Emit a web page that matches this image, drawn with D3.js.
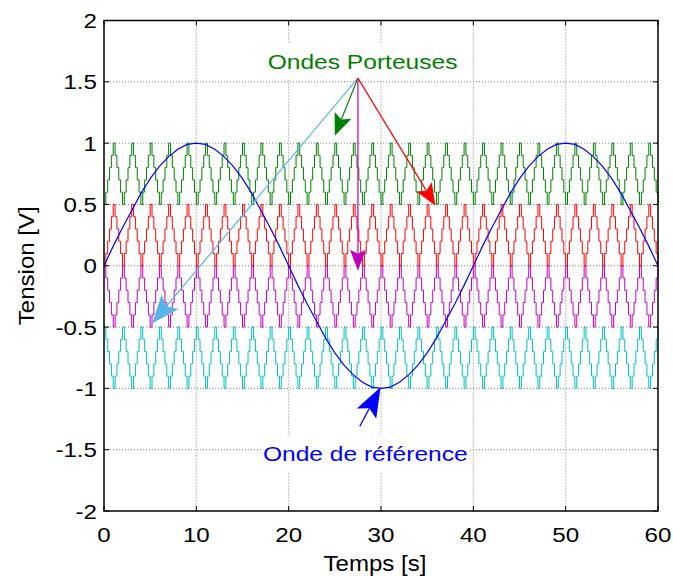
<!DOCTYPE html>
<html><head><meta charset="utf-8">
<script src="https://cdn.jsdelivr.net/npm/d3@7"></script>
<style>html,body{margin:0;padding:0;background:#fff;}svg{display:block;}</style>
</head><body>
<svg id="c" width="673" height="576"></svg>
<script>
// ---------- data ----------
const xTicks = [0, 10, 20, 30, 40, 50, 60];
const xTickLabels = ["0", "10", "20", "30", "40", "50", "60"];
const yTicks = [-2, -1.5, -1, -0.5, 0, 0.5, 1, 1.5, 2];
const yTickLabels = ["-2", "-1.5", "-1", "-0.5", "0", "0.5", "1", "1.5", "2"];

// reference wave, sampled every second (t = 0..60)
const sineTimes = [0,1,2,3,4,5,6,7,8,9,10,11,12,13,14,15,16,17,18,19,20,21,22,23,24,25,26,27,28,29,30,
  31,32,33,34,35,36,37,38,39,40,41,42,43,44,45,46,47,48,49,50,51,52,53,54,55,56,57,58,59,60];
const sineValues = [0,0.16,0.31,0.45,0.59,0.71,0.81,0.89,0.95,0.99,1,0.99,0.95,0.89,0.81,0.71,0.59,0.45,0.31,0.16,
  0,-0.16,-0.31,-0.45,-0.59,-0.71,-0.81,-0.89,-0.95,-0.99,-1,-0.99,-0.95,-0.89,-0.81,-0.71,-0.59,-0.45,-0.31,-0.16,
  0,0.16,0.31,0.45,0.59,0.71,0.81,0.89,0.95,0.99,1,0.99,0.95,0.89,0.81,0.71,0.59,0.45,0.31,0.16,0];

// one period (2 s) of carrier as sampled levels (fraction of band), sample step 0.2 s
const carrierPattern = [0, 0.2, 0.4, 0.6, 0.8, 1, 0.8, 0.6, 0.4, 0.2];
const carrierStep = 0.2;
const carrierPeriods = 30;
const carrierNames = ["cyan", "magenta", "red", "green"];
const carrierLows = [-1, -0.5, 0, 0.5];
const carrierHighs = [-0.5, 0, 0.5, 1];
const carrierInverted = [true, true, false, false];
const carrierColors = ["#00bfbf", "#bf00bf", "#ff0000", "#008000"];

// annotations (data coordinates)
const labelCarrier = {text: "Ondes Porteuses", x: 28, y: 1.67, color: "#008000"};
const labelRef = {text: "Onde de référence", x: 28.3, y: -1.53, color: "#0000ff"};
const arrowFromT = [27.5, 27.5, 27.5, 27.5, 27.7];
const arrowFromV = [1.53, 1.53, 1.53, 1.53, -1.31];
const arrowToT = [5.2, 25.0, 27.5, 35.9, 29.95];
const arrowToV = [-0.47, 1.06, -0.04, 0.49, -0.99];
const arrowColors = ["#56b4e9", "#008000", "#bf00bf", "#ff0000", "#0000ff"];
const arrowHeadLen = [28, 22, 21, 22, 30];
const arrowHeadHalfW = [11, 9, 8, 9, 11];

// ---------- drawing ----------
const svg = d3.select("#c");
svg.append("rect").attr("width", 673).attr("height", 576).attr("fill", "#fff");
const x = d3.scaleLinear().domain([0, 60]).range([104, 658]);
const y = d3.scaleLinear().domain([-2, 2]).range([511, 20.5]);
const FONT = "'Liberation Sans', Arial, sans-serif";

// grid
const grid = svg.append("g");
grid.selectAll("line.gx").data(xTicks.slice(1, -1)).join("line")
  .attr("x1", d => x(d)).attr("x2", d => x(d)).attr("y1", y(2)).attr("y2", y(-2))
  .attr("stroke", "#808080").attr("stroke-width", 1).attr("stroke-dasharray", "1,2");
grid.selectAll("line.gy").data(yTicks.slice(1, -1)).join("line")
  .attr("y1", d => y(d)).attr("y2", d => y(d)).attr("x1", x(0)).attr("x2", x(60))
  .attr("stroke", "#808080").attr("stroke-width", 1).attr("stroke-dasharray", "1,2");

// carriers
const stepLine = d3.line().x(d => x(d[0])).y(d => y(d[1])).curve(d3.curveStepAfter);
carrierNames.forEach((name, k) => {
  const pts = [];
  const lo = carrierLows[k], hi = carrierHighs[k];
  for (let p = 0; p < carrierPeriods; p++) {
    carrierPattern.forEach((f, i) => {
      const fr = carrierInverted[k] ? 1 - f : f;
      pts.push([(p * carrierPattern.length + i) * carrierStep, lo + fr * (hi - lo)]);
    });
  }
  const f0 = carrierInverted[k] ? 1 - carrierPattern[0] : carrierPattern[0];
  pts.push([60, lo + f0 * (hi - lo)]);
  svg.append("path").attr("d", stepLine(pts)).attr("fill", "none")
    .attr("stroke", carrierColors[k]).attr("stroke-width", 1);
});

// reference sine
const line = d3.line().x((d, i) => x(sineTimes[i])).y(d => y(d));
svg.append("path").attr("d", line(sineValues)).attr("fill", "none")
  .attr("stroke", "#0000ff").attr("stroke-width", 1.2);

// axes box + ticks
const ax = svg.append("g");
ax.append("rect").attr("x", x(0)).attr("y", y(2)).attr("width", x(60) - x(0)).attr("height", y(-2) - y(2))
  .attr("fill", "none").attr("stroke", "#000").attr("stroke-width", 1.5);
const tl = 5;
xTicks.forEach(t => {
  ax.append("line").attr("x1", x(t)).attr("x2", x(t)).attr("y1", y(-2)).attr("y2", y(-2) - tl).attr("stroke", "#000");
  ax.append("line").attr("x1", x(t)).attr("x2", x(t)).attr("y1", y(2)).attr("y2", y(2) + tl).attr("stroke", "#000");
});
yTicks.forEach(t => {
  ax.append("line").attr("y1", y(t)).attr("y2", y(t)).attr("x1", x(0)).attr("x2", x(0) + tl).attr("stroke", "#000");
  ax.append("line").attr("y1", y(t)).attr("y2", y(t)).attr("x1", x(60)).attr("x2", x(60) - tl).attr("stroke", "#000");
});

function txt(s, px, py, opts) {
  const g = svg.append("g").attr("transform", `translate(${px},${py}) rotate(${opts.rot || 0}) scale(${opts.sx || 1.15},1)`);
  return g.append("text").text(s).attr("font-family", FONT).attr("font-size", opts.size || 21)
    .attr("text-anchor", opts.anchor || "middle").attr("fill", opts.color || "#000")
    .attr("dominant-baseline", opts.baseline || "auto");
}
xTicks.forEach((t, i) => txt(xTickLabels[i], x(t), 542, {}));
yTicks.forEach((t, i) => txt(yTickLabels[i], 97, y(t) + 7.5, {anchor: "end"}));
txt("Tension [V]", 34, y(0), {rot: -90, sx: 1.12, size: 21.5});
txt("Temps [s]", 375, 571, {sx: 1.12, size: 21.5});

// annotation labels with white boxes
function boxLabel(l) {
  svg.append("rect").attr("x", x(l.x) - 103).attr("y", y(l.y) - 18).attr("width", 208).attr("height", 37).attr("fill", "#fff");
  txt(l.text, x(l.x), y(l.y) + 8, {color: l.color, sx: 1.17});
}
boxLabel(labelCarrier);
boxLabel(labelRef);

// arrows
arrowFromT.forEach((t0, i) => {
  const x0 = x(t0), y0 = y(arrowFromV[i]), x1 = x(arrowToT[i]), y1 = y(arrowToV[i]);
  const dx = x1 - x0, dy = y1 - y0, len = Math.hypot(dx, dy);
  const ux = dx / len, uy = dy / len, nx = -uy, ny = ux;
  const L = arrowHeadLen[i], W = arrowHeadHalfW[i], N = L * 0.8;
  svg.append("line").attr("x1", x0).attr("y1", y0).attr("x2", x1 - ux * N).attr("y2", y1 - uy * N)
    .attr("stroke", arrowColors[i]).attr("stroke-width", 1.2);
  const pts = [[x1, y1], [x1 - ux * L + nx * W, y1 - uy * L + ny * W], [x1 - ux * N, y1 - uy * N], [x1 - ux * L - nx * W, y1 - uy * L - ny * W]];
  svg.append("path").attr("d", "M" + pts.map(p => p.join(",")).join("L") + "Z").attr("fill", arrowColors[i]);
});
</script>
</body></html>
